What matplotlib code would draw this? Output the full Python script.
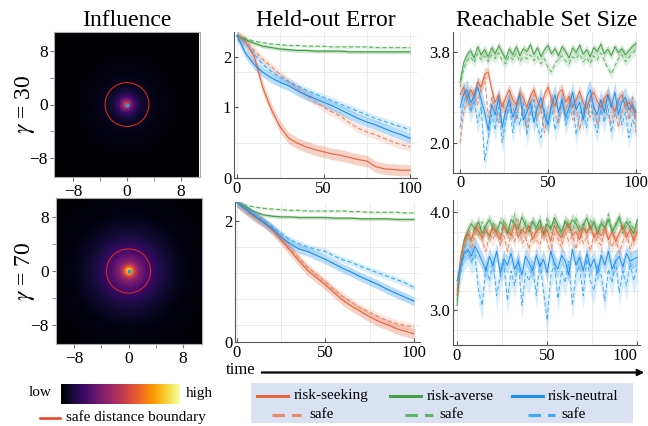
import numpy as np
import matplotlib
matplotlib.use("Agg")
from matplotlib import pyplot as plt
from matplotlib.patches import Circle, Rectangle
from matplotlib.ticker import FuncFormatter

plt.rcParams['font.family'] = ['Liberation Serif', 'DejaVu Serif']
plt.rcParams['mathtext.fontset'] = 'stix'
plt.rcParams['lines.scale_dashes'] = False

W, H = 648, 426

# ---- influence maps: radial profile (colormap level vs distance)
radii_g30 = [0, 0.4, 0.8, 1.2, 2, 3, 5, 8, 16]
level_g30 = [0.62, 0.48, 0.32, 0.20, 0.10, 0.06, 0.03, 0.01, 0.0]
radii_g70 = [0, 0.3, 0.6, 1.0, 1.5, 2.5, 3.5, 5, 7, 9, 16]
level_g70 = [1.0, 0.88, 0.66, 0.48, 0.36, 0.25, 0.18, 0.11, 0.06, 0.025, 0.0]
safe_radius = 3.25

# ---- held-out error, every 5 steps
t_err = np.arange(0, 101, 5)
err30 = {
    'seek': [2.01, 1.92, 1.71, 1.27, 0.96, 0.72, 0.56, 0.49, 0.44, 0.40, 0.37,
             0.34, 0.32, 0.29, 0.26, 0.24, 0.16, 0.13, 0.12, 0.11, 0.11],
    'seek_safe': [2.01, 1.92, 1.80, 1.67, 1.57, 1.46, 1.36, 1.26, 1.17, 1.08, 1.00,
                  0.93, 0.87, 0.78, 0.70, 0.65, 0.61, 0.56, 0.51, 0.47, 0.44],
    'averse': [2.01, 1.95, 1.90, 1.86, 1.84, 1.82, 1.81, 1.80, 1.80, 1.79, 1.79,
               1.79, 1.79, 1.78, 1.78, 1.78, 1.78, 1.78, 1.78, 1.78, 1.78],
    'averse_safe': [2.01, 1.97, 1.93, 1.91, 1.89, 1.88, 1.87, 1.87, 1.86, 1.86, 1.86,
                    1.85, 1.85, 1.85, 1.85, 1.85, 1.84, 1.84, 1.84, 1.84, 1.84],
    'neutral': [2.01, 1.76, 1.60, 1.49, 1.41, 1.35, 1.30, 1.23, 1.17, 1.12, 1.07,
                1.02, 0.96, 0.90, 0.84, 0.79, 0.75, 0.70, 0.65, 0.61, 0.56],
    'neutral_safe': [2.01, 1.90, 1.75, 1.60, 1.50, 1.42, 1.36, 1.30, 1.24, 1.19, 1.14,
                     1.09, 1.04, 0.99, 0.94, 0.89, 0.84, 0.80, 0.76, 0.72, 0.68],
}
err70 = {
    'seek': [2.28, 2.17, 2.06, 1.98, 1.86, 1.71, 1.55, 1.39, 1.24, 1.13, 1.02,
             0.90, 0.78, 0.69, 0.61, 0.53, 0.46, 0.41, 0.35, 0.31, 0.27],
    'seek_safe': [2.28, 2.17, 2.07, 1.98, 1.87, 1.73, 1.58, 1.43, 1.29, 1.17, 1.06,
                  0.94, 0.84, 0.75, 0.66, 0.60, 0.53, 0.47, 0.43, 0.40, 0.37],
    'averse': [2.28, 2.21, 2.14, 2.09, 2.07, 2.06, 2.06, 2.05, 2.05, 2.05, 2.05,
               2.04, 2.04, 2.04, 2.03, 2.03, 2.03, 2.03, 2.02, 2.02, 2.02],
    'averse_safe': [2.28, 2.24, 2.21, 2.19, 2.18, 2.17, 2.16, 2.16, 2.15, 2.15, 2.15,
                    2.15, 2.15, 2.14, 2.14, 2.13, 2.13, 2.13, 2.13, 2.12, 2.12],
    'neutral': [2.28, 2.18, 2.08, 1.98, 1.88, 1.75, 1.65, 1.57, 1.53, 1.47, 1.41,
                1.34, 1.27, 1.21, 1.14, 1.08, 1.02, 0.95, 0.89, 0.83, 0.77],
    'neutral_safe': [2.28, 2.19, 2.10, 2.00, 1.91, 1.81, 1.71, 1.65, 1.60, 1.56, 1.53,
                     1.46, 1.40, 1.36, 1.30, 1.25, 1.20, 1.15, 1.10, 1.05, 0.98],
}
err_spread = {'seek': 0.08, 'seek_safe': 0.06, 'averse': 0.025, 'averse_safe': 0.02,
              'neutral': 0.07, 'neutral_safe': 0.05}

# ---- reachable set size, every 2 steps
t_rs = np.arange(0, 101, 2)
rs30 = {
    'averse': [3.20, 3.58, 3.74, 3.82, 3.68, 3.90, 3.74, 3.84, 3.70, 3.88,
               3.76, 3.92, 3.78, 3.66, 3.86, 3.74, 3.90, 3.72, 3.86, 3.80,
               3.94, 3.74, 3.88, 3.70, 3.84, 3.92, 3.76, 3.86, 3.72, 3.90,
               3.80, 3.68, 3.88, 3.78, 3.93, 3.75, 3.84, 3.70, 3.88, 3.80,
               3.95, 3.76, 3.85, 3.72, 3.90, 3.78, 3.86, 3.74, 3.82, 3.90,
               3.96],
    'averse_safe': [3.10, 3.45, 3.62, 3.70, 3.58, 3.76, 3.64, 3.72, 3.60, 3.74,
                    3.66, 3.78, 3.62, 3.56, 3.72, 3.64, 3.76, 3.60, 3.70, 3.66,
                    3.74, 3.62, 3.70, 3.56, 3.66, 3.48, 3.40, 3.58, 3.64, 3.72,
                    3.62, 3.56, 3.70, 3.66, 3.76, 3.60, 3.68, 3.56, 3.72, 3.64,
                    3.78, 3.62, 3.48, 3.36, 3.52, 3.66, 3.74, 3.60, 3.68, 3.76,
                    3.84],
    'seek': [2.95, 3.10, 2.85, 3.05, 2.92, 3.20, 3.10, 3.35, 3.40, 3.05,
             2.80, 2.95, 2.70, 2.90, 3.05, 2.85, 2.75, 3.00, 2.88, 2.70,
             2.92, 3.05, 2.82, 2.68, 2.95, 3.10, 2.86, 2.72, 2.98, 3.05,
             2.80, 2.92, 2.70, 2.85, 3.02, 2.78, 2.66, 2.90, 3.00, 2.82,
             2.70, 2.88, 2.96, 2.75, 2.62, 2.85, 2.95, 2.72, 2.80, 2.68,
             2.55],
    'seek_safe': [2.00, 2.60, 2.85, 2.70, 3.00, 2.75, 3.10, 3.30, 2.50, 2.90,
                  2.65, 2.40, 2.80, 2.55, 2.90, 2.70, 2.45, 2.85, 2.60, 2.30,
                  2.75, 2.95, 2.50, 2.65, 2.20, 2.70, 2.85, 2.55, 2.40, 2.80,
                  2.62, 2.90, 2.45, 2.70, 2.25, 2.60, 2.80, 2.50, 2.72, 2.35,
                  2.65, 2.85, 2.55, 2.40, 2.70, 2.30, 2.60, 2.75, 2.45, 2.90,
                  2.20],
    'neutral': [2.70, 2.95, 3.05, 2.80, 2.90, 3.10, 2.85, 2.60, 2.25, 2.75,
                2.55, 2.90, 2.30, 2.65, 2.85, 2.50, 2.70, 2.95, 2.45, 2.60,
                2.80, 2.40, 2.70, 2.90, 2.55, 2.35, 2.75, 2.95, 2.60, 2.85,
                2.50, 2.70, 3.00, 2.65, 2.80, 2.45, 2.90, 3.05, 2.70, 2.55,
                2.85, 2.60, 2.95, 2.70, 3.00, 2.55, 2.80, 2.90, 2.65, 2.75,
                2.60],
    'neutral_safe': [2.30, 2.80, 2.95, 2.60, 2.85, 2.40, 2.70, 1.65, 2.10, 2.55,
                     2.25, 2.70, 2.00, 2.45, 2.75, 2.20, 2.60, 2.35, 2.80, 2.15,
                     2.55, 2.85, 2.30, 2.10, 2.65, 2.40, 2.75, 2.25, 2.50, 2.90,
                     2.35, 2.60, 2.80, 2.15, 2.55, 2.70, 2.30, 2.85, 2.45, 2.20,
                     2.65, 2.40, 2.75, 2.20, 2.55, 2.85, 2.35, 2.60, 2.10, 2.45,
                     2.30],
}
rs70 = {
    'averse': [3.05, 3.50, 3.72, 3.80, 3.88, 3.82, 3.90, 3.78, 3.86, 3.92,
               3.84, 3.80, 3.90, 3.86, 3.78, 3.92, 3.88, 3.82, 3.95, 3.86,
               3.80, 3.90, 3.84, 3.92, 3.78, 3.88, 3.82, 3.94, 3.86, 3.80,
               3.90, 3.84, 3.92, 3.88, 3.80, 3.86, 3.94, 3.82, 3.90, 3.78,
               3.88, 3.84, 3.92, 3.80, 3.86, 3.95, 3.82, 3.90, 3.84, 3.78,
               3.92],
    'averse_safe': [3.10, 3.45, 3.65, 3.78, 3.70, 3.85, 3.76, 3.90, 3.80, 3.74,
                    3.88, 3.82, 3.76, 3.92, 3.84, 3.80, 3.98, 3.86, 3.78, 3.90,
                    3.84, 3.92, 3.80, 3.88, 3.76, 3.95, 3.84, 3.90, 3.82, 3.78,
                    3.92, 3.86, 3.80, 3.94, 3.84, 3.88, 3.78, 3.92, 3.86, 3.82,
                    3.90, 3.84, 3.98, 3.80, 3.88, 3.92, 3.78, 3.86, 3.90, 3.82,
                    3.88],
    'seek': [3.15, 3.55, 3.70, 3.78, 3.72, 3.85, 3.80, 3.74, 3.82, 3.76,
             3.84, 3.78, 3.72, 3.86, 3.80, 3.76, 3.88, 3.74, 3.82, 3.78,
             3.86, 3.72, 3.80, 3.84, 3.76, 3.82, 3.70, 3.86, 3.78, 3.74,
             3.82, 3.88, 3.76, 3.80, 3.72, 3.84, 3.78, 3.86, 3.74, 3.80,
             3.76, 3.84, 3.72, 3.80, 3.70, 3.78, 3.86, 3.74, 3.82, 3.70,
             3.80],
    'seek_safe': [3.20, 3.50, 3.66, 3.80, 3.62, 3.76, 3.85, 3.70, 3.60, 3.78,
                  3.72, 3.84, 3.66, 3.76, 3.60, 3.80, 3.70, 3.92, 3.68, 3.74,
                  3.62, 3.80, 3.72, 3.66, 3.86, 3.70, 3.58, 3.78, 3.72, 3.64,
                  3.80, 3.70, 3.76, 3.62, 3.84, 3.68, 3.74, 3.60, 3.78, 3.70,
                  3.66, 3.82, 3.72, 3.64, 3.76, 3.58, 3.70, 3.80, 3.62, 3.74,
                  3.85],
    'neutral': [3.30, 3.45, 3.58, 3.62, 3.55, 3.65, 3.58, 3.50, 3.40, 3.55,
                3.45, 3.60, 3.38, 3.52, 3.46, 3.58, 3.42, 3.50, 3.36, 3.55,
                3.48, 3.40, 3.56, 3.44, 3.52, 3.38, 3.60, 3.48, 3.42, 3.56,
                3.50, 3.36, 3.62, 3.46, 3.54, 3.40, 3.58, 3.44, 3.52, 3.38,
                3.56, 3.46, 3.60, 3.42, 3.50, 3.55, 3.44, 3.58, 3.50, 3.52,
                3.54],
    'neutral_safe': [3.25, 3.40, 3.55, 3.60, 3.50, 3.56, 3.20, 3.05, 3.45, 3.30,
                     3.50, 3.15, 3.35, 3.48, 3.10, 3.40, 3.25, 3.52, 3.05, 3.38,
                     3.30, 3.45, 3.15, 3.50, 3.20, 2.90, 3.35, 3.48, 3.12, 3.40,
                     3.28, 3.50, 3.05, 3.38, 3.45, 3.15, 3.52, 3.30, 3.20, 3.46,
                     3.35, 3.10, 3.42, 3.28, 3.50, 3.18, 3.40, 3.25, 3.48, 3.30,
                     3.45],
}
rs_spread30 = {'seek': 0.12, 'seek_safe': 0.14, 'averse': 0.08, 'averse_safe': 0.09,
               'neutral': 0.2, 'neutral_safe': 0.22}
rs_spread70 = {'seek': 0.06, 'seek_safe': 0.07, 'averse': 0.06, 'averse_safe': 0.06,
               'neutral': 0.09, 'neutral_safe': 0.14}

colors = {'seek': '#e4683f', 'seek_safe': '#e88a68',
          'averse': '#43a047', 'averse_safe': '#62b566',
          'neutral': '#1e90ee', 'neutral_safe': '#42abf5'}
order = ['averse_safe', 'averse', 'seek_safe', 'seek', 'neutral_safe', 'neutral']

fig = plt.figure(figsize=(W / 100, H / 100), dpi=100)


def px_axes(x0, y0, x1, y1):
    return fig.add_axes([x0 / W, 1 - y1 / H, (x1 - x0) / W, (y1 - y0) / H])


def style_line_axes(ax):
    for s in ['top', 'right']:
        ax.spines[s].set_visible(False)
    for s in ['left', 'bottom']:
        ax.spines[s].set_color('#555555')
        ax.spines[s].set_linewidth(0.8)
    ax.tick_params(which='both', direction='in', length=3, color='#555555',
                   labelsize=12, pad=2)
    ax.tick_params(which='minor', length=0)
    ax.set_axisbelow(True)
    ax.grid(which='minor', color='#e8e8e8', lw=0.6)
    ax.grid(which='major', axis='x', color='#e8e8e8', lw=0.6)


def draw_series(ax, t, data, spread, lw):
    for k in order:
        v = np.array(data[k])
        c = colors[k]
        ls = (0, (3, 1.8)) if k.endswith('safe') else '-'
        ax.fill_between(t, v - spread[k], v + spread[k], color=c,
                        alpha=0.2 if k.endswith('safe') else 0.3, lw=0)
        ax.plot(t, v, color=c, lw=lw, ls=ls)


# influence maps
xs = np.linspace(-10.75, 10.75, 300)
X, Y = np.meshgrid(xs, xs)
R = np.hypot(X, Y)
for (y0, y1, x0, x1), radii, level, lab in [((32, 177, 54, 200), radii_g30, level_g30, '30'),
                                            ((198, 344, 55, 202), radii_g70, level_g70, '70')]:
    ax = px_axes(x0, y0, x1, y1)
    ax.imshow(np.interp(R, radii, level), cmap='inferno', vmin=0, vmax=1,
              extent=(-10.75, 10.75, -10.75, 10.75), origin='lower', interpolation='bilinear')
    ax.add_patch(Circle((0, 0), safe_radius, fill=False, ec='#d62a1a', lw=0.8))
    ax.scatter([0], [0], s=9, color='#2f9bd6', zorder=3, lw=0)
    ax.set_xticks([-8, 0, 8])
    ax.set_yticks([-8, 0, 8])
    ax.set_xticks([-4, 4], minor=True)
    ax.set_yticks([-4, 4], minor=True)
    ax.set_xticklabels(['\u22128', '0', '8'])
    ax.set_yticklabels(['\u22128', '0', '8'])
    ax.tick_params(which='both', direction='out', length=3, color='#777777',
                   labelsize=12.5, pad=2)
    for s in ax.spines.values():
        s.set_color('#aaaaaa')
        s.set_linewidth(0.8)
    fig.text(25 / W, 1 - ((y0 + y1) / 2) / H, r'$\gamma$ = ' + lab, rotation=90,
             ha='center', va='center', fontsize=17)
    if y0 < 100:
        ax.set_title('Influence', fontsize=17, pad=4)

# held-out error
int_fmt = FuncFormatter(lambda v, p: '%d' % round(v))
ax = px_axes(234, 32, 417, 178)
draw_series(ax, t_err, err30, err_spread, 0.85)
ax.set_xlim(-1.7, 104)
ax.set_ylim(0, 2.06)
ax.set_yticks([0, 1, 1.71])
ax.set_yticks([0.5, 1.0, 1.5, 2.0], minor=True)
ax.yaxis.set_major_formatter(int_fmt)
ax.set_xticks([0, 50, 100])
ax.set_xticks([25, 75], minor=True)
style_line_axes(ax)
ax.set_title('Held-out Error', fontsize=17, pad=4)

ax = px_axes(235, 202, 420, 342)
draw_series(ax, t_err, err70, err_spread, 0.85)
ax.set_xlim(-1, 103.4)
ax.set_ylim(0.145, 2.287)
ax.set_yticks([0.145, 2.0])
ax.set_yticks([0.4, 0.8, 1.2, 1.6, 2.0], minor=True)
ax.yaxis.set_major_formatter(int_fmt)
ax.set_xticks([0, 50, 100])
ax.set_xticks([25, 75], minor=True)
style_line_axes(ax)

# reachable set size
ax = px_axes(453, 32, 640, 172.5)
draw_series(ax, t_rs, rs30, rs_spread30, 0.7)
ax.set_xlim(-4, 102.3)
ax.set_ylim(1.41, 4.19)
ax.set_yticks([2.0, 3.8])
ax.set_yticks([2.0, 2.6, 3.2, 3.8], minor=True)
ax.set_yticklabels(['2.0', '3.8'])
ax.set_xticks([0, 50, 100])
ax.set_xticks([25, 75], minor=True)
style_line_axes(ax)
ax.set_title('Reachable Set Size', fontsize=17, pad=4)

ax = px_axes(453, 200, 640, 345)
draw_series(ax, t_rs, rs70, rs_spread70, 0.7)
ax.set_xlim(-2.2, 101.5)
ax.set_ylim(2.65, 4.12)
ax.set_yticks([3.0, 4.0])
ax.set_yticks([2.8, 3.0, 3.2, 3.4, 3.6, 3.8, 4.0], minor=True)
ax.set_yticklabels(['3.0', '4.0'])
ax.set_xticks([0, 50, 100])
ax.set_xticks([25, 75], minor=True)
style_line_axes(ax)
for lbl in ax.get_xticklabels()[-1:]:
    lbl.set_horizontalalignment('right')
    lbl.set_x(lbl.get_position()[0])

# overlay: colorbar key, time arrow, legend box
ov = fig.add_axes([0, 0, 1, 1])
ov.imshow(np.linspace(0, 1, 256)[None, :], cmap='inferno', aspect='auto',
          extent=(61, 180, 404, 384))
ov.set_xlim(0, W)
ov.set_ylim(H, 0)
ov.axis('off')
ov.text(52, 393, 'low', ha='right', va='center', fontsize=11)
ov.text(186, 394, 'high', ha='left', va='center', fontsize=11)
ov.plot([40, 60], [417.5, 417.5], color='#f03c1e', lw=1.8)
ov.text(66, 417, 'safe distance boundary', ha='left', va='center', fontsize=11)

ov.text(241, 370, 'time', ha='center', va='center', fontsize=12)
ov.annotate('', xy=(647, 372.5), xytext=(259, 372.5),
            arrowprops=dict(arrowstyle='-|>', lw=1.6, color='black', mutation_scale=9))

ov.add_patch(Rectangle((251, 383), 382, 40, fc='#d9e1f2', ec='none'))
legend_rows = [
    ('seek', 'risk-seeking', 257, 288, 294),
    ('averse', 'risk-averse', 390, 421, 427),
    ('neutral', 'risk-neutral', 512, 543, 548),
]
safe_rows = [
    ('seek', 272, 301, 309),
    ('averse', 405, 433, 439),
    ('neutral', 528, 555, 561),
]
for k, name, a, b, tx in legend_rows:
    ov.plot([a, b], [395.5, 395.5], color=colors[k], lw=2.2)
    ov.text(tx, 396, name, ha='left', va='center', fontsize=11)
for k, a, b, tx in safe_rows:
    ov.plot([a, b], [414.5, 414.5], color=colors[k + '_safe'], lw=2.2, ls=(0, (9, 5)))
    ov.text(tx, 414, 'safe', ha='left', va='center', fontsize=11)

fig.savefig('out.png', dpi=100)
